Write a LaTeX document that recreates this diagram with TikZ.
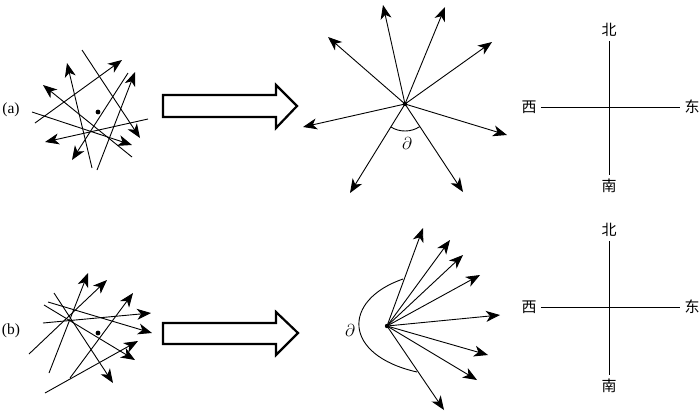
\documentclass[tikz,border=0pt]{standalone}
\usepackage{fontspec}
\setmainfont{Liberation Serif}
\newfontfamily\cjk{Noto Sans CJK SC}
\usetikzlibrary{arrows.meta}

\begin{document}
\begin{tikzpicture}[x=1pt, y=-1pt, line width=0.9pt,
    vec/.style={-{Stealth[length=14pt, width=11pt, inset=4pt]}},
    bigarrow/.style={draw, line width=2.2pt, line join=miter, fill=white},
    dir/.style={font=\cjk\fontsize{15}{15}\selectfont, inner sep=4pt},
    axis/.style={line width=1pt},
    lab/.style={font=\fontsize{15.5}{15.5}\selectfont, inner sep=1pt},
    angle/.style={font=\fontsize{18}{18}\selectfont, inner sep=1pt}]
    \useasboundingbox (0,0) rectangle (700,416);

    % row (a)
    \node[lab] (la) at (11,110) {(a)};
    \foreach \a/\b/\c/\d in {82/50/140/138, 35/123/122/60, 92/168/67/63, 97/170/135/72,
        128/73/72/160, 132/157/43/85, 148/119/45/142, 32/112/132/145}
        \draw[vec] (\a,\b) -- (\c,\d);
    \fill (98,112) circle[radius=2.4pt];

    \draw[bigarrow] (163,95) -- (276,95) -- (276,85) -- (297,106) -- (276,128)
        -- (276,117) -- (163,117) -- cycle;

    \coordinate (ca) at (405,104);
    \foreach \x/\y in {383/5, 445/7, 492/42, 507/135, 463/192, 350/193, 303/127, 328/37}
        \draw[vec] (ca) -- (\x,\y);
    \fill (ca) circle[radius=2.2pt];
    \draw (ca) ++(238:27pt) arc[start angle=238, end angle=303, radius=27pt];
    \node[angle] (pa) at (407,143) {$\partial$};

    \node[dir] (na) at (609,30) {北};
    \node[dir] (sa) at (609,186) {南};
    \node[dir] (wa) at (529,107) {西};
    \node[dir] (ea) at (692,107) {东};
    \draw[axis] (na) -- (sa);
    \draw[axis] (wa) -- (ea);

    % row (b)
    \node[lab] (lb) at (11,331) {(b)};
    \foreach \a/\b/\c/\d in {49/373/88/273, 29/354/107/280, 70/378/133/293, 43/323/151/313,
        48/302/152/333, 44/305/135/360, 54/293/113/383, 45/393/138/341}
        \draw[vec] (\a,\b) -- (\c,\d);
    \fill (98,333) circle[radius=2.4pt];

    \draw[bigarrow] (163,323) -- (276,323) -- (276,312) -- (298,333) -- (276,355)
        -- (276,344) -- (163,344) -- cycle;

    \coordinate (cb) at (387,326);
    \foreach \x/\y in {423/228, 450/240, 463/255, 480/275, 500/315, 488/355, 477/380, 444/410}
        \draw[vec] (cb) -- (\x,\y);
    \fill (cb) circle[radius=2.2pt];
    \draw (403,279) .. controls (342,300) and (342,355) .. (417,372);
    \node[angle] (pb) at (350,330) {$\partial$};

    \node[dir] (nb) at (609,230) {北};
    \node[dir] (sb) at (609,386) {南};
    \node[dir] (wb) at (529,307) {西};
    \node[dir] (eb) at (692,307) {东};
    \draw[axis] (nb) -- (sb);
    \draw[axis] (wb) -- (eb);
\end{tikzpicture}
\end{document}
